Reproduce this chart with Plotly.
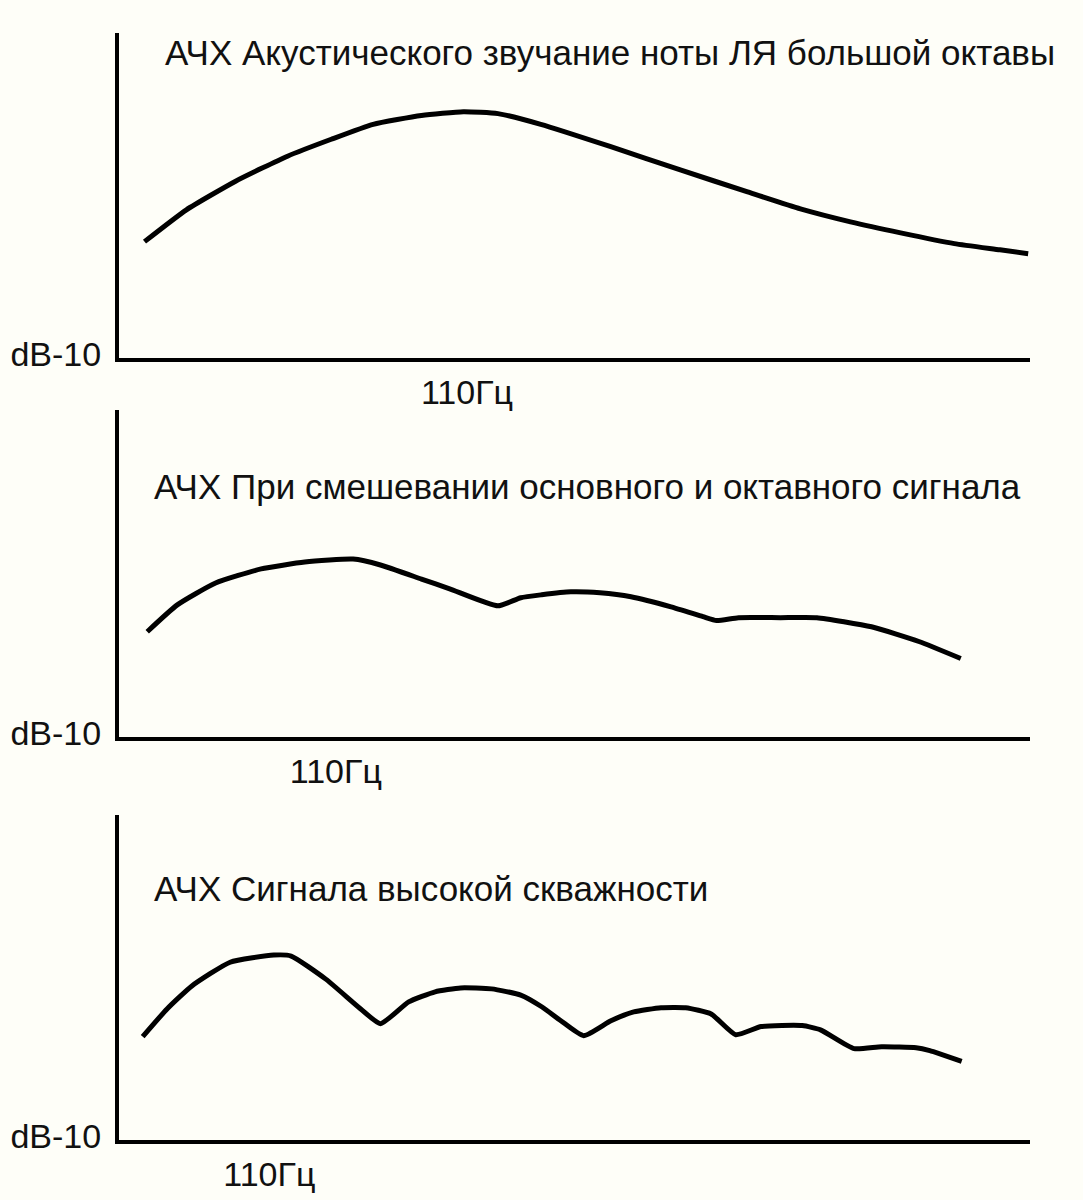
import plotly.graph_objects as go

# ---------------- data (relative frequency 0..100, relative level 0..100) ----------------
titles = [
    "АЧХ Акустического звучание ноты ЛЯ большой октавы",
    "АЧХ При смешевании основного и октавного сигнала",
    "АЧХ Сигнала высокой скважности",
]
y_tick_label = "dB-10"
x_tick_label = "110Гц"
x_tick_pos = [38.2, 23.8, 16.5]

x1 = [2.8, 7.4, 12.8, 18.5, 23.3, 27.9, 33.2, 37.8, 41.6, 46.3, 53.9, 61.7, 69.0, 74.8, 80.3, 85.8, 91.7, 96.7, 99.8]
y1 = [35.8, 45.6, 54.4, 62.1, 67.3, 71.9, 74.6, 75.8, 75.2, 71.9, 65.1, 57.8, 51.1, 45.9, 41.9, 38.5, 35.2, 33.3, 32.1]

x2 = [3.1, 6.4, 10.6, 15.6, 20.4, 25.7, 28.7, 33.2, 36.3, 41.6, 44.1, 46.4, 49.6, 52.8, 56.2, 60.6, 64.1, 65.6, 68.0, 72.6, 76.6, 82.6, 87.8, 92.4]
y2 = [32.2, 40.4, 47.1, 51.4, 53.5, 54.4, 52.6, 48.3, 45.3, 40.1, 42.6, 43.5, 44.4, 44.1, 42.9, 39.8, 36.8, 35.6, 36.5, 36.5, 36.5, 33.7, 29.2, 24.0]

x3 = [2.6, 5.3, 8.0, 12.2, 17.0, 18.9, 22.7, 26.5, 28.7, 31.8, 34.7, 37.5, 40.9, 44.1, 46.4, 48.5, 51.0, 54.0, 56.5, 59.5, 62.2, 65.0, 67.7, 70.5, 75.0, 77.0, 80.7, 83.7, 87.5, 89.0, 92.5]
y3 = [31.8, 40.4, 47.4, 54.7, 56.9, 56.6, 49.5, 40.4, 35.8, 42.5, 45.6, 46.8, 46.5, 44.6, 41.0, 36.7, 32.1, 36.7, 39.4, 40.7, 40.7, 38.8, 32.4, 34.9, 35.2, 33.9, 28.1, 28.7, 28.4, 27.5, 24.2]

series = [(x1, y1), (x2, y2), (x3, y3)]

# ---------------- layout ----------------
W, H = 1083, 1200
BG = "#FEFEF8"
FONT = "Liberation Sans, Arial, sans-serif"
FS = 34
FS_TITLE = 35

x_dom = [119 / W, 1030 / W]
y_doms = [
    [1 - 358 / H, 1 - 33 / H],
    [1 - 737 / H, 1 - 410 / H],
    [1 - 1140 / H, 1 - 815 / H],
]
title_pos = [(163, 52), (152, 486), (152, 888)]

fig = go.Figure()
layout = dict(
    width=W, height=H,
    margin=dict(l=0, r=0, t=0, b=0, autoexpand=False),
    paper_bgcolor=BG, plot_bgcolor=BG,
    showlegend=False,
    font=dict(family=FONT, size=FS, color="#111111"),
    annotations=[],
)

for i, (xs, ys) in enumerate(series):
    n = "" if i == 0 else str(i + 1)
    fig.add_trace(go.Scatter(
        x=xs, y=ys, mode="lines",
        line=dict(color="#000000", width=5, shape="spline", smoothing=0.5),
        xaxis="x" + n, yaxis="y" + n, hoverinfo="skip",
    ))
    layout["xaxis" + n] = dict(
        domain=x_dom, range=[0, 100], anchor="y" + n,
        showline=True, linewidth=4, linecolor="#000000",
        showgrid=False, zeroline=False, ticks="",
        tickmode="array", tickvals=[x_tick_pos[i]], ticktext=[x_tick_label],
        tickfont=dict(family=FONT, size=FS, color="#111111"),
        ticklabelstandoff=1, automargin=False,
        fixedrange=True,
    )
    layout["yaxis" + n] = dict(
        domain=y_doms[i], range=[0, 100], anchor="x" + n,
        showline=True, linewidth=4, linecolor="#000000",
        showgrid=False, zeroline=False, ticks="",
        tickmode="array", tickvals=[0], ticktext=[y_tick_label],
        tickfont=dict(family=FONT, size=FS, color="#111111"),
        ticklabelshift=-4, ticklabelstandoff=7, automargin=False,
        fixedrange=True,
    )
    tx, ty = title_pos[i]
    layout["annotations"].append(dict(
        text=titles[i], xref="paper", yref="paper",
        x=tx / W, y=1 - ty / H, xanchor="left", yanchor="middle",
        showarrow=False, font=dict(family=FONT, size=FS_TITLE, color="#111111"),
    ))

fig.update_layout(**layout)
fig.write_html("out.html")
